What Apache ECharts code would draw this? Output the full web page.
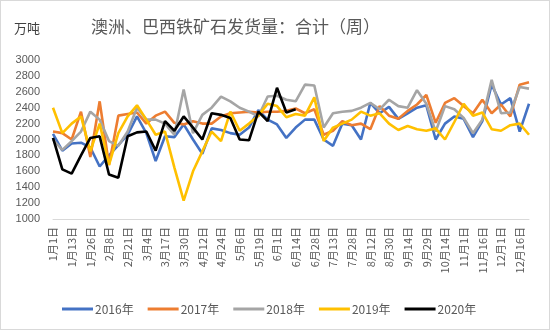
<!DOCTYPE html>
<html><head><meta charset="utf-8">
<script src="https://cdn.jsdelivr.net/npm/echarts@6/dist/echarts.min.js"></script>
<style>html,body{margin:0;padding:0;background:#fff}#c{width:548px;height:328px;border:1px solid #d9d9d9}</style>
</head><body><div id="c"></div>
<script>
var categories = ['1月1日','1月7日','1月13日','1月19日','1月26日','2月1日','2月8日','2月14日','2月21日','2月27日','3月4日','3月10日','3月17日','3月23日','3月30日','4月5日','4月12日','4月18日','4月24日','4月30日','5月6日','5月12日','5月19日','5月26日','6月1日','6月7日','6月14日','6月21日','6月28日','7月6日','7月13日','7月20日','7月28日','8月4日','8月12日','8月20日','8月30日','9月7日','9月14日','9月21日','9月29日','10月7日','10月14日','10月24日','11月1日','11月9日','11月16日','11月23日','12月1日','12月8日','12月16日','12月23日'];
var s2016 = [2070,1860,1950,1960,1900,1660,1800,1930,2060,2290,2080,1730,2040,2030,2190,2000,1820,2140,2120,2080,2060,2150,2370,2250,2190,2020,2150,2250,2250,2000,1920,2200,2180,2000,2460,2330,2410,2260,2330,2400,2430,2000,2200,2290,2260,2030,2230,2690,2440,2520,2100,2450];
var s2017 = [2100,2080,2000,2350,1780,2480,1680,2300,2320,2340,2200,2300,2350,2210,2190,2230,2200,2200,2290,2330,2340,2350,2340,2350,2350,2360,2390,2330,2380,2060,2110,2230,2180,2200,2130,2420,2300,2260,2360,2440,2560,2210,2460,2520,2420,2330,2500,2330,2440,2290,2690,2720];
var s2018 = [2000,1870,1980,2100,2350,2250,1980,1920,2100,2400,2250,2250,2200,2060,2630,2080,2310,2400,2540,2480,2400,2350,2290,2540,2550,2500,2480,2690,2680,2150,2330,2350,2360,2400,2460,2380,2500,2420,2400,2620,2450,2100,2420,2380,2270,2080,2250,2750,2330,2340,2660,2640];
var s2019 = [2400,2080,2200,2290,1850,2200,1680,2080,2290,2430,2250,2060,2100,1650,1230,1600,1850,2100,1980,2350,2110,2200,2300,2450,2420,2280,2320,2300,2530,1980,2150,2200,2250,2350,2300,2330,2200,2120,2170,2130,2110,2140,2000,2220,2450,2300,2340,2130,2110,2180,2200,2060];
var s2020 = [2020,1625,1570,1800,2020,2040,1560,1520,2040,2090,2100,1860,2230,2110,2290,2150,2000,2330,2310,2270,2000,1990,2350,2230,2650,2340,2380];
var seriesNames = ['2016年','2017年','2018年','2019年','2020年'];
var yTicks = {min:1000, max:3000, interval:200};

var colors = ['#4472C4','#ED7D31','#A5A5A5','#FFC000','#000000'];
var font = '"Noto Sans CJK SC","Microsoft YaHei",sans-serif';
var data = [s2016,s2017,s2018,s2019,s2020];
var chart = echarts.init(document.getElementById('c'));
chart.setOption({
  animation:false,
  color:colors,
  title:[
    {text:'澳洲、巴西铁矿石发货量：合计（周）',left:85,top:12,textStyle:{fontFamily:font,fontSize:17,fontWeight:'normal',color:'#595959'}},
    {text:'万吨',left:8,top:16,textStyle:{fontFamily:font,fontSize:13,fontWeight:'normal',color:'#404040'}}
  ],
  legend:{left:56,top:297,itemWidth:31,itemHeight:3,itemGap:14,icon:'rect',
    textStyle:{fontFamily:font,fontSize:12,color:'#595959',padding:[0,0,0,-3]},data:seriesNames},
  grid:{left:52,right:20,top:59,bottom:110},
  xAxis:{type:'category',data:categories,boundaryGap:false,
    axisLine:{lineStyle:{color:'#d9d9d9',width:1}},axisTick:{show:false},
    axisLabel:{interval:1,rotate:90,margin:8,fontFamily:font,fontSize:11,color:'#595959'}},
  yAxis:{type:'value',min:yTicks.min,max:yTicks.max,interval:yTicks.interval,
    splitLine:{show:false},axisLine:{show:false},axisTick:{show:false},
    axisLabel:{margin:13,formatter:function(v){return String(v);},fontFamily:'"Liberation Sans",Arial,sans-serif',fontSize:11,color:'#595959'}},
  series:data.map(function(d,i){return {name:seriesNames[i],type:'line',data:d,symbol:'none',
    lineStyle:{width:2.6,color:colors[i]},itemStyle:{color:colors[i]},z:2+i};})
});
</script></body></html>
